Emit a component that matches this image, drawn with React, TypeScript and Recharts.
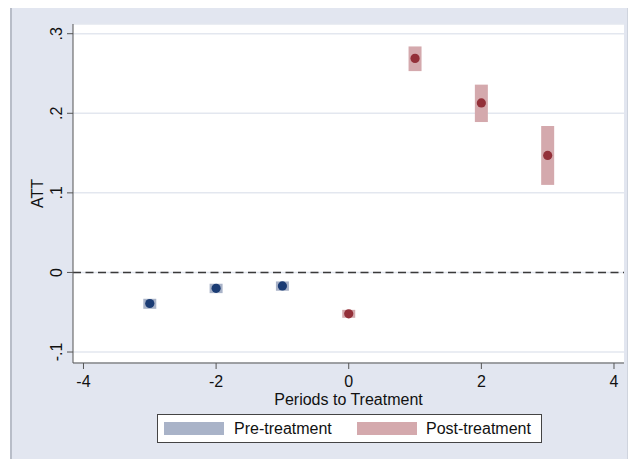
import React from 'react';
import {
  ComposedChart, Scatter, ErrorBar, XAxis, YAxis, CartesianGrid,
  ReferenceLine, Legend,
} from 'recharts';

// periods relative to treatment
const prePeriods = [-3, -2, -1];
const postPeriods = [0, 1, 2, 3];

// point estimates and confidence bounds
const preAtt = [-0.039, -0.020, -0.017];
const preLo = [-0.0457, -0.026, -0.023];
const preHi = [-0.0331, -0.0142, -0.0113];

const postAtt = [-0.052, 0.269, 0.213, 0.147];
const postLo = [-0.057, 0.253, 0.189, 0.110];
const postHi = [-0.047, 0.284, 0.236, 0.184];

const xTicks = [-4, -2, 0, 2, 4];
const yTicks = [-0.1, 0, 0.1, 0.2, 0.3];

const FONT = '"Liberation Sans", Arial, sans-serif';
const BG = '#e2e6f0';
const PRE_DOT = '#1b3c74';
const PRE_BOX = '#a9b3c8';
const POST_DOT = '#933039';
const POST_BOX = '#d4a9ad';

const build = (xs: number[], ys: number[], lo: number[], hi: number[]) =>
  xs.map((x, i) => ({ x, y: ys[i], err: [ys[i] - lo[i], hi[i] - ys[i]] }));

const preData = build(prePeriods, preAtt, preLo, preHi);
const postData = build(postPeriods, postAtt, postLo, postHi);

// Stata-style numbers: .3, -.1, 0
const fmtY = (v: number) => {
  if (Math.abs(v) < 1e-9) return '0';
  const s = String(Math.round(v * 10) / 10);
  return s.replace(/^(-?)0\./, '$1.');
};

const YTick = (props: any) => {
  const { y, payload } = props;
  return (
    <g>
      <text x={62} y={y} transform={`rotate(-90, 62, ${y})`} textAnchor="middle"
        fontSize={16} fontFamily={FONT} fill="#111">
        {fmtY(payload.value)}
      </text>
    </g>
  );
};

const XTick = (props: any) => {
  const { x, payload } = props;
  return (
    <text x={x} y={387} textAnchor="middle" fontSize={16} fontFamily={FONT} fill="#111">
      {payload.value}
    </text>
  );
};

const AttLabel = (props: any) => {
  const vb = props.viewBox || {};
  const cy = (vb.y ?? 24) + (vb.height ?? 339) / 2;
  return (
    <text x={43} y={cy} transform={`rotate(-90, 43, ${cy})`} textAnchor="middle"
      fontSize={16} fontFamily={FONT} fill="#111">ATT</text>
  );
};

const dot = (color: string) => (p: any) => (
  <circle cx={p.cx} cy={p.cy} r={4.6} fill={color} />
);

const LegendBox = () => (
  <div style={{
    position: 'relative', width: 383, height: 27, background: '#fff',
    border: '1px solid #444', fontFamily: FONT, fontSize: 16, color: '#111',
  }}>
    <div style={{ position: 'absolute', left: 6, top: 7, width: 60, height: 13, background: PRE_BOX }} />
    <div style={{ position: 'absolute', left: 76, top: 4, lineHeight: '19px' }}>Pre-treatment</div>
    <div style={{ position: 'absolute', left: 199, top: 7, width: 60, height: 13, background: POST_BOX }} />
    <div style={{ position: 'absolute', left: 268, top: 4, lineHeight: '19px' }}>Post-treatment</div>
  </div>
);

export default function App() {
  return (
    <div style={{ position: 'absolute', left: 0, top: 0, width: 628, height: 459, background: '#fff' }}>
      <div style={{
        position: 'absolute', left: 10, top: 8, width: 615, height: 451,
        background: BG, borderLeft: '2px solid #b8bdc8', borderRight: '1px solid #cfd4de',
      }} />
      <div style={{ position: 'absolute', left: 0, top: 0 }}>
        <ComposedChart width={628} height={459}
          margin={{ top: 24, right: 4, left: 0, bottom: 66 }}>
          <CartesianGrid vertical={false} fill="#fff" stroke="#e3e7ef" strokeWidth={1.5} />
          <XAxis type="number" dataKey="x" domain={[-4.158, 4.151]} ticks={xTicks}
            allowDataOverflow height={30} stroke="#555" tickSize={6}
            tickLine={{ stroke: '#555' }} tick={<XTick />}
            label={{ value: 'Periods to Treatment', position: 'insideBottom', offset: -12,
              style: { fontSize: 16, fontFamily: FONT, fill: '#111' } }} />
          <XAxis xAxisId="top" orientation="top" type="number" domain={[-4.158, 4.151]}
            height={0} tick={false} tickLine={false} stroke="#dde1ea" />
          <YAxis type="number" dataKey="y" domain={[-0.1138, 0.3122]} ticks={yTicks} allowDataOverflow
            width={73} stroke="#555" tickSize={6} tickLine={{ stroke: '#555' }} tick={<YTick />}
            label={<AttLabel />} />
          <YAxis yAxisId="right" orientation="right" type="number" domain={[0, 1]}
            width={0} tick={false} tickLine={false} stroke="#dde1ea" />
          <ReferenceLine y={0} stroke="#3a3a3a" strokeWidth={1.6} strokeDasharray="8 4.5" />
          <Scatter name="Pre-treatment" data={preData} dataKey="y" fill={PRE_DOT}
            shape={dot(PRE_DOT)} isAnimationActive={false}>
            <ErrorBar dataKey="err" direction="y" width={0} strokeWidth={13}
              stroke={PRE_BOX} isAnimationActive={false} />
          </Scatter>
          <Scatter name="Post-treatment" data={postData} dataKey="y" fill={POST_DOT}
            shape={dot(POST_DOT)} isAnimationActive={false}>
            <ErrorBar dataKey="err" direction="y" width={0} strokeWidth={13}
              stroke={POST_BOX} isAnimationActive={false} />
          </Scatter>
          <Legend layout="horizontal" verticalAlign="middle" align="center"
            wrapperStyle={{ left: 157, top: 414, width: 385, height: 29 }}
            content={<LegendBox />} />
        </ComposedChart>
      </div>
    </div>
  );
}
